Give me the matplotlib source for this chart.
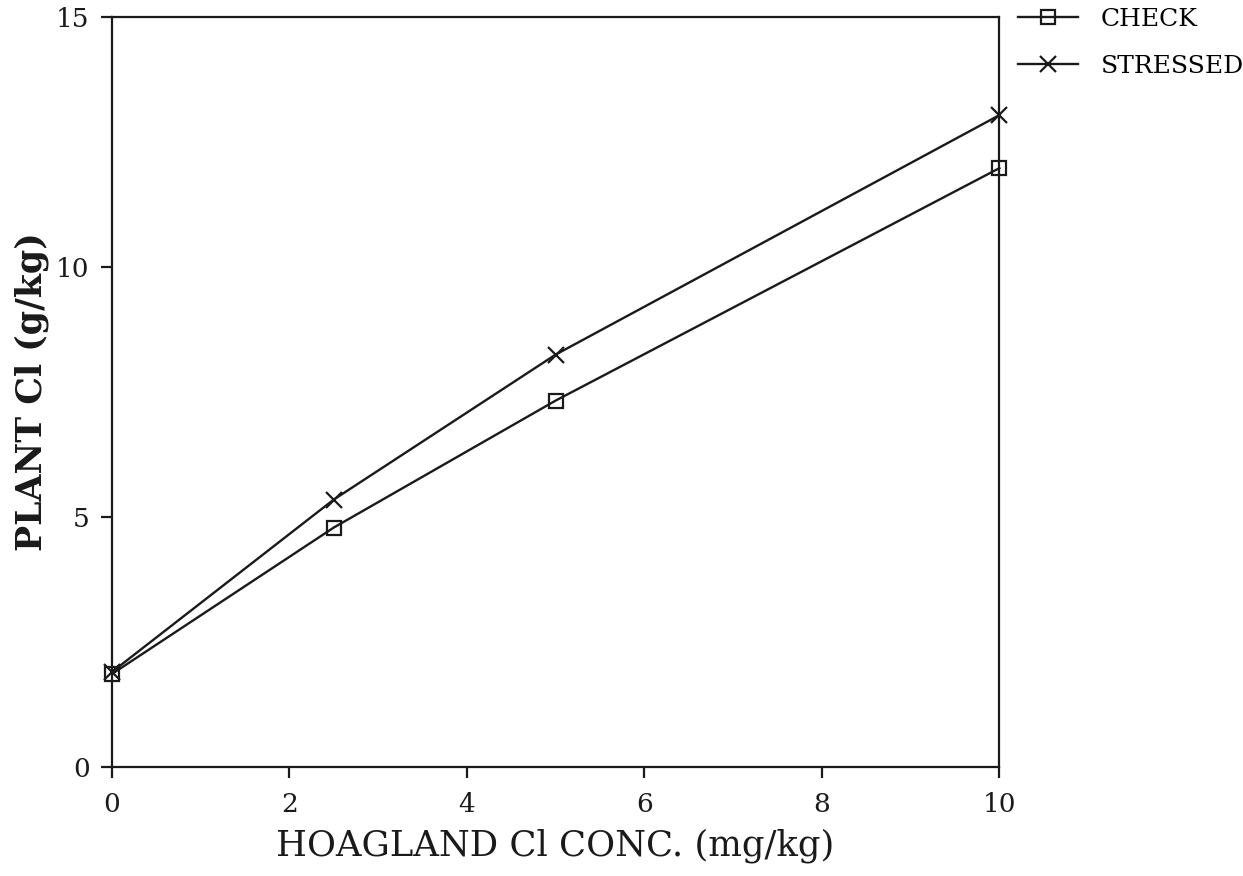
import matplotlib.pyplot as plt

# Hoagland Cl concentration (mg/kg) vs plant Cl (g/kg)
hoagland_cl = [0, 2.5, 5, 10]
check_cl = [1.86, 4.79, 7.33, 11.98]
stressed_cl = [1.9, 5.35, 8.25, 13.04]

serif = ['DejaVu Serif']
ink = '#1a1a1a'

fig = plt.figure(figsize=(12.43, 8.76), dpi=100)
ax = fig.add_axes([0.090, 0.1244, 0.714, 0.856])

ax.plot(hoagland_cl, check_cl, color=ink, lw=1.7, marker='s', ms=10.5,
        mfc='none', mec=ink, mew=1.6, label='CHECK', clip_on=False)
ax.plot(hoagland_cl, stressed_cl, color=ink, lw=1.7, marker='x', ms=11,
        mew=1.6, label='STRESSED', clip_on=False)

ax.set_xlim(0, 10)
ax.set_ylim(0, 15)
ax.set_xticks([0, 2, 4, 6, 8, 10])
ax.set_yticks([0, 5, 10, 15])
ax.tick_params(direction='out', length=8, width=1.6, colors=ink,
               labelsize=19)
ax.tick_params(axis='x', pad=10)
ax.tick_params(axis='y', pad=8)
for lab in ax.get_xticklabels() + ax.get_yticklabels():
    lab.set_family(serif)
for sp in ax.spines.values():
    sp.set_linewidth(1.6)
    sp.set_color(ink)

ax.set_xlabel('HOAGLAND Cl CONC. (mg/kg)', family=serif, fontsize=25.5,
              color=ink, labelpad=8)
ax.set_ylabel('PLANT Cl (g/kg)', family=serif, fontsize=25,
              fontweight='bold', color=ink, labelpad=5)

ax.legend(loc='upper left', bbox_to_anchor=(1018 / 1243, 1 - 8 / 876),
          bbox_transform=fig.transFigure, frameon=False,
          borderpad=0, borderaxespad=0,
          prop={'family': serif, 'size': 18}, handlelength=2.4,
          labelspacing=0.95, handletextpad=0.9)

fig.savefig('out.png', dpi=100)
